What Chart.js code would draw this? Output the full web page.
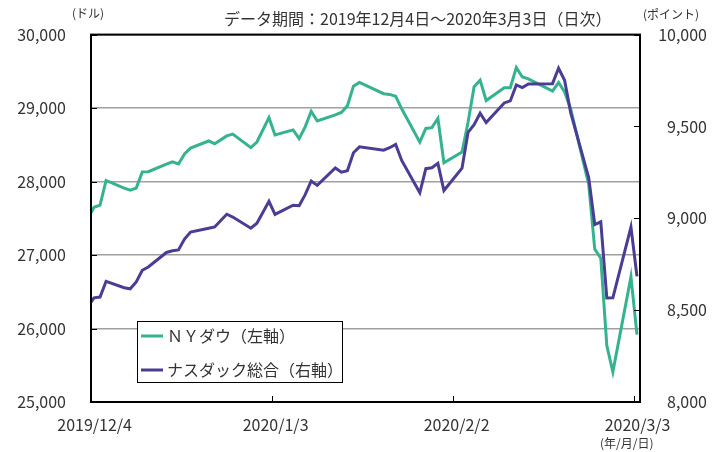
<!DOCTYPE html>
<html lang="ja">
<head>
  <meta charset="UTF-8">
  <title>NYダウとナスダック総合</title>
  <script src="https://cdn.jsdelivr.net/npm/chart.js"></script>
  <style>
    body { margin: 0; background: #fff; }
    #wrap { width: 727px; height: 452px; }
  </style>
</head>
<body>
  <div id="wrap"><canvas id="chart" width="727" height="452"></canvas></div>

  <script>
    // trading days (NY); the 12/3 point sits just left of the axis and is clipped
    const dates = [
      '2019-12-03',
      '2019-12-04','2019-12-05','2019-12-06','2019-12-09','2019-12-10','2019-12-11','2019-12-12','2019-12-13',
      '2019-12-16','2019-12-17','2019-12-18','2019-12-19','2019-12-20','2019-12-23','2019-12-24','2019-12-26',
      '2019-12-27','2019-12-30','2019-12-31','2020-01-02','2020-01-03','2020-01-06','2020-01-07','2020-01-08',
      '2020-01-09','2020-01-10','2020-01-13','2020-01-14','2020-01-15','2020-01-16','2020-01-17','2020-01-21',
      '2020-01-22','2020-01-23','2020-01-24','2020-01-27','2020-01-28','2020-01-29','2020-01-30','2020-01-31',
      '2020-02-03','2020-02-04','2020-02-05','2020-02-06','2020-02-07','2020-02-10','2020-02-11','2020-02-12',
      '2020-02-13','2020-02-14','2020-02-18','2020-02-19','2020-02-20','2020-02-21','2020-02-24','2020-02-25',
      '2020-02-26','2020-02-27','2020-02-28','2020-03-02','2020-03-03'
    ];

    // NYダウ (ドル)
    const dow = [
      27503,
      27650, 27678, 28015, 27910, 27882, 27911, 28132, 28135,
      28236, 28267, 28239, 28377, 28455, 28552, 28515, 28621,
      28645, 28462, 28538, 28869, 28635, 28703, 28584, 28745,
      28957, 28824, 28907, 28940, 29030, 29298, 29348, 29196,
      29186, 29160, 28990, 28536, 28723, 28734, 28859, 28256,
      28400, 28808, 29291, 29380, 29103, 29277, 29276, 29551,
      29423, 29398, 29232, 29348, 29220, 28992, 27961, 27081,
      26958, 25767, 25409, 26703, 25917
    ];

    // ナスダック総合 (ポイント)
    const nasdaq = [
      8521,
      8567, 8571, 8657, 8622, 8616, 8654, 8717, 8735,
      8814, 8823, 8828, 8887, 8925, 8946, 8953, 9022,
      9007, 8946, 8973, 9092, 9021, 9071, 9069, 9129,
      9203, 9179, 9274, 9251, 9259, 9357, 9389, 9371,
      9384, 9402, 9315, 9139, 9270, 9275, 9299, 9151,
      9273, 9468, 9509, 9572, 9521, 9628, 9639, 9726,
      9712, 9731, 9733, 9817, 9751, 9577, 9221, 8966,
      8981, 8566, 8567, 8952, 8684
    ];

    const xTickDays = [0, 30, 60, 90];
    const xTickLabels = ['2019/12/4', '2020/1/3', '2020/2/2', '2020/3/3'];
    const seriesNames = ['ＮＹダウ（左軸）', 'ナスダック総合（右軸）'];
    const seriesColors = ['#35b28f', '#4a3d94'];

    const day0 = Date.UTC(2019, 11, 4);
    function dayIndex(s) {
      const p = s.split('-').map(Number);
      return (Date.UTC(p[0], p[1] - 1, p[2]) - day0) / 86400000 + 0.5;
    }

    const dowPts = dates.map((d, i) => ({ x: dayIndex(d), y: dow[i] }));
    const nasPts = dates.map((d, i) => ({ x: dayIndex(d), y: nasdaq[i] }));

    Chart.defaults.font.family = "'Noto Sans CJK JP', 'Noto Sans', sans-serif";
    Chart.defaults.font.size = 16;
    Chart.defaults.color = '#333';

    const fmt = v => v.toLocaleString('en-US');

    // frame, inward tick marks, legend box and extra labels
    const decor = {
      id: 'decor',
      afterDatasetsDraw(chart) {
        const ctx = chart.ctx;
        const a = chart.chartArea;
        const yl = chart.scales.yL, yr = chart.scales.yR, x = chart.scales.x;
        ctx.save();

        ctx.strokeStyle = '#000';
        ctx.lineWidth = 2;
        ctx.strokeRect(a.left, a.top, a.right - a.left, a.bottom - a.top);

        ctx.lineWidth = 1;
        ctx.beginPath();
        yl.ticks.forEach(t => {
          const py = Math.round(yl.getPixelForValue(t.value)) + 0.5;
          ctx.moveTo(a.left, py); ctx.lineTo(a.left + 6, py);
        });
        yr.ticks.forEach(t => {
          const py = Math.round(yr.getPixelForValue(t.value)) + 0.5;
          ctx.moveTo(a.right - 6, py); ctx.lineTo(a.right, py);
        });
        xTickDays.forEach(d => {
          const px = Math.round(x.getPixelForValue(d)) + 0.5;
          ctx.moveTo(px, a.bottom); ctx.lineTo(px, a.bottom - 6);
        });
        ctx.stroke();

        // legend
        const lx = 137, ly = 321, lw = 205, lh = 61;
        ctx.fillStyle = '#fff';
        ctx.fillRect(lx, ly, lw, lh);
        ctx.strokeStyle = '#000';
        ctx.lineWidth = 1;
        ctx.strokeRect(lx + 0.5, ly + 0.5, lw, lh);
        chart.data.datasets.slice().sort((p, q) => p.legendIndex - q.legendIndex).forEach((ds, i) => {
          const cy = ly + 15 + i * 34;
          ctx.strokeStyle = ds.borderColor;
          ctx.lineWidth = 3;
          ctx.beginPath();
          ctx.moveTo(lx + 4, cy); ctx.lineTo(lx + 26, cy);
          ctx.stroke();
          ctx.fillStyle = '#333';
          ctx.font = "16px 'Noto Sans CJK JP', sans-serif";
          ctx.textBaseline = 'middle';
          ctx.textAlign = 'left';
          ctx.fillText(ds.label, lx + 30, cy);
        });

        // title and unit labels
        ctx.fillStyle = '#333';
        ctx.textBaseline = 'middle';
        ctx.font = "16px 'Noto Sans CJK JP', sans-serif";
        ctx.textAlign = 'left';
        ctx.fillText('データ期間：2019年12月4日～2020年3月3日（日次）', 224, 19);
        ctx.font = "12px 'Noto Sans CJK JP', sans-serif";
        ctx.fillText('(ドル)', 72, 13);
        ctx.fillText('(ポイント)', 643, 14);
        ctx.fillText('(年/月/日)', 600, 443);
        ctx.restore();
      }
    };

    new Chart(document.getElementById('chart'), {
      type: 'line',
      data: {
        datasets: [
          {
            label: seriesNames[0],
            data: dowPts,
            yAxisID: 'yL',
            borderColor: seriesColors[0],
            borderWidth: 3,
            pointRadius: 0,
            tension: 0,
            order: 1,
            legendIndex: 0
          },
          {
            label: seriesNames[1],
            data: nasPts,
            yAxisID: 'yR',
            borderColor: seriesColors[1],
            borderWidth: 3,
            pointRadius: 0,
            tension: 0,
            order: 0,
            legendIndex: 1
          }
        ]
      },
      options: {
        responsive: false,
        animation: false,
        layout: { padding: { top: 30, right: 20, left: 0, bottom: 0 } },
        plugins: { legend: { display: false }, tooltip: { enabled: false } },
        scales: {
          x: {
            type: 'linear',
            min: 0,
            max: 91,
            afterFit(s) { s.height = 50; },
            afterBuildTicks(s) { s.ticks = xTickDays.map(d => ({ value: d + 0.6 })); },
            ticks: {
              padding: 5,
              maxRotation: 0,
              autoSkip: false,
              callback: (v, i) => xTickLabels[i]
            },
            grid: { display: false },
            border: { display: false }
          },
          yL: {
            position: 'left',
            min: 25000,
            max: 30000,
            afterFit(s) { s.width = 91; },
            ticks: { stepSize: 1000, padding: 25, callback: v => fmt(v) },
            grid: { color: '#a0a0a0', lineWidth: 1.5, drawTicks: false },
            border: { display: false }
          },
          yR: {
            position: 'right',
            min: 8000,
            max: 10000,
            afterFit(s) { s.width = 67; },
            ticks: { stepSize: 500, crossAlign: 'far', callback: v => fmt(v) },
            grid: { display: false, drawTicks: false },
            border: { display: false }
          }
        }
      },
      plugins: [decor]
    });
  </script>
</body>
</html>
